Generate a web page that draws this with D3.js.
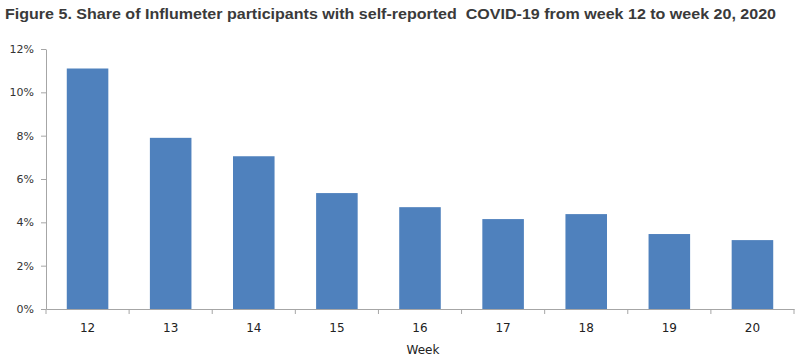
<!DOCTYPE html>
<html><head><meta charset="utf-8">
<script src="https://cdn.jsdelivr.net/npm/d3@7"></script>
<style>body{margin:0;background:#fff}svg{display:block}</style>
</head><body>
<script>
const title = "Figure 5. Share of Influmeter participants with self-reported  COVID-19 from week 12 to week 20, 2020";
const weeks = ["12","13","14","15","16","17","18","19","20"];
const shares = [11.1, 7.9, 7.05, 5.35, 4.7, 4.15, 4.38, 3.46, 3.18];
const yTicks = [0, 2, 4, 6, 8, 10, 12];
const xAxisTitle = "Week";

const W = 800, H = 360;
const svg = d3.select("body").append("svg").attr("width", W).attr("height", H);
const font = "'DejaVu Sans', sans-serif";
const x = d3.scaleBand().domain(weeks).range([46, 794]).paddingInner(0.5).paddingOuter(0.25);
const y = d3.scaleLinear().domain([0, 12]).range([309, 49]);

const t = svg.append("text").attr("x", 5).attr("y", 19).attr("font-family", "'Liberation Sans', Arial, sans-serif")
  .attr("font-weight", "bold").attr("font-size", 15).attr("fill", "#3a3a3a")
  .style("white-space", "pre").text(title);
const natural = t.node().getComputedTextLength();
if (natural > 771) t.attr("font-size", 15 * 771 / natural);
t.attr("textLength", 771).attr("lengthAdjust", "spacingAndGlyphs");

svg.append("g").selectAll("rect").data(weeks).join("rect")
  .attr("x", d => x(d)).attr("width", x.bandwidth())
  .attr("y", (d, i) => y(shares[i])).attr("height", (d, i) => y(0) - y(shares[i]))
  .attr("fill", "#4f81bd");

const ya = svg.append("g").attr("transform", "translate(46,0)")
  .call(d3.axisLeft(y).tickValues(yTicks).tickFormat(d => d + "%").tickSize(5).tickSizeOuter(0).tickPadding(7));
ya.select(".domain").attr("stroke", "#a6a6a6");
ya.selectAll(".tick line").attr("stroke", "#a6a6a6");
ya.selectAll("text").attr("font-family", font).attr("font-size", 11).attr("fill", "#333");

const xa = svg.append("g").attr("transform", "translate(0,309)")
  .call(d3.axisBottom(x).tickSize(0).tickPadding(14));
xa.select(".domain").attr("stroke", "#a6a6a6");
xa.selectAll("text").attr("font-family", font).attr("font-size", 12).attr("fill", "#222");
const edges = weeks.map(d => x(d) - x.step() * 0.25).concat([794]);
xa.selectAll(".sep").data(edges).join("line").attr("class", "sep")
  .attr("x1", d => d).attr("x2", d => d).attr("y1", 0).attr("y2", 5).attr("stroke", "#a6a6a6");

svg.append("text").attr("x", 423).attr("y", 354).attr("text-anchor", "middle")
  .attr("font-family", font).attr("font-size", 12).attr("fill", "#222").text(xAxisTitle);
</script>
</body></html>
